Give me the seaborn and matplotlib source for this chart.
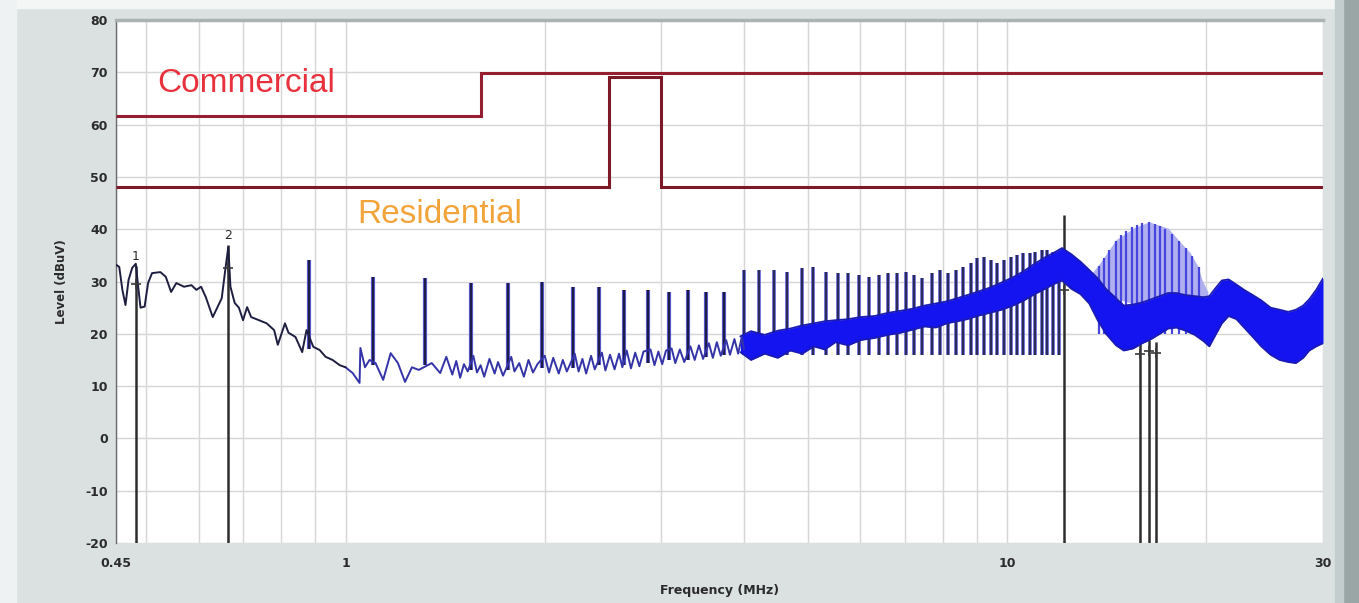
import numpy as np
import pandas as pd
import matplotlib
matplotlib.use("Agg")
import matplotlib.pyplot as plt
import seaborn as sns
from matplotlib.patches import Rectangle

# ---------------- data ----------------
x_tick_values = [0.45, 1, 10, 30]
x_tick_labels = ["0.45", "1", "10", "30"]
x_minor_grid = [0.5, 0.6, 0.7, 0.8, 0.9, 2, 3, 4, 5, 6, 7, 8, 9, 20]
y_tick_values = [-20, -10, 0, 10, 20, 30, 40, 50, 60, 70, 80]

# limit lines (step edges in MHz, levels in dBuV)
commercial_edges = [0.45, 1.6, 30]
commercial_levels = [61.6, 69.8]
residential_edges = [0.45, 2.5, 3.0, 30]
residential_levels = [48.1, 69.2, 48.1]

# low-frequency trace 0.45 - 1.0 MHz
low_f = [0.450, 0.455, 0.460, 0.465, 0.470, 0.476, 0.482, 0.486, 0.490, 0.497,
         0.503, 0.510, 0.525, 0.535, 0.545, 0.555, 0.570, 0.585, 0.595, 0.605,
         0.615, 0.630, 0.650, 0.658, 0.665, 0.670, 0.680, 0.690, 0.700, 0.710,
         0.720, 0.740, 0.760, 0.780, 0.790, 0.810, 0.820, 0.840, 0.860, 0.873,
         0.894, 0.914, 0.933, 0.956, 0.980, 1.000]
low_level = [33.2, 32.8, 28.4, 25.5, 30.3, 32.6, 33.4, 29.0, 25.0, 25.2,
             29.7, 31.6, 31.8, 30.9, 28.0, 29.7, 29.0, 29.3, 28.4, 29.0,
             27.0, 23.2, 26.8, 32.2, 36.6, 29.0, 25.9, 25.0, 22.6, 25.1,
             23.2, 22.6, 22.0, 20.7, 17.9, 22.0, 20.2, 19.4, 16.5, 20.7,
             17.5, 16.9, 15.6, 15.0, 14.0, 13.6]

# mid trace 1.0 - 4.0 MHz (noise floor between harmonics)
mid_f = [1.000, 1.025, 1.050, 1.053, 1.070, 1.087, 1.110, 1.140, 1.170, 1.200,
         1.230, 1.260, 1.290, 1.350, 1.390, 1.420, 1.450, 1.470, 1.490, 1.510,
         1.530, 1.560, 1.580, 1.600, 1.620, 1.650, 1.680, 1.700, 1.730, 1.780,
         1.800, 1.830, 1.860, 1.890, 1.920, 1.950, 2.000, 2.030, 2.060, 2.100,
         2.130, 2.160, 2.220, 2.250, 2.280, 2.310, 2.350, 2.380, 2.440, 2.470,
         2.510, 2.550, 2.590, 2.620, 2.660, 2.700, 2.740, 2.780, 2.820, 2.890,
         2.930, 2.970, 3.010, 3.050, 3.110, 3.150, 3.200, 3.250, 3.320, 3.370,
         3.420, 3.470, 3.540, 3.590, 3.640, 3.690, 3.760, 3.810, 3.870, 3.920,
         3.970, 4.000]
mid_level = [13.6, 12.5, 10.6, 17.3, 13.6, 15.0, 14.4, 11.2, 16.3, 14.4,
             10.8, 13.6, 13.1, 14.4, 12.5, 15.6, 12.2, 14.8, 11.6, 14.2,
             12.8, 15.8, 12.6, 14.0, 11.8, 15.2, 12.4, 14.6, 12.0, 15.6,
             12.8, 14.4, 11.8, 15.0, 12.6, 14.2, 15.8, 12.6, 15.4, 12.4,
             15.0, 12.8, 16.2, 12.8, 15.2, 12.4, 15.8, 13.2, 16.4, 13.0,
             16.0, 13.2, 16.2, 13.6, 16.8, 13.4, 16.4, 13.8, 16.6, 17.0,
             14.0, 16.6, 14.2, 16.8, 17.2, 14.4, 17.0, 14.6, 17.6, 15.0,
             17.8, 15.2, 18.2, 15.4, 18.4, 15.8, 18.8, 16.0, 19.0, 16.2,
             19.4, 17.0]

# harmonic spikes 0.88 - 3.74 MHz
mid_spike_f = [0.880, 1.100, 1.320, 1.545, 1.763, 1.984, 2.203, 2.419, 2.639,
               2.869, 3.087, 3.297, 3.511, 3.737]
mid_spike_top = [34.1, 30.9, 30.7, 29.7, 29.7, 29.9, 29.0, 29.0, 28.4,
                 28.4, 28.0, 28.4, 28.0, 28.0]
mid_spike_base = [17.0, 14.0, 14.0, 13.0, 13.0, 13.5, 13.5, 14.0, 14.0,
                  14.5, 15.0, 15.0, 15.5, 16.0]

# harmonic spikes 4 - 12 MHz (tops)
high_spike_f = [4.00, 4.22, 4.44, 4.65, 4.89, 5.09, 5.32, 5.54, 5.75, 5.97,
                6.18, 6.39, 6.60, 6.82, 7.02, 7.23, 7.44, 7.70, 7.91, 8.14,
                8.36, 8.57, 8.80, 9.01, 9.22, 9.44, 9.66, 9.89, 10.12, 10.35,
                10.57, 10.81, 11.03, 11.27, 11.49, 11.74, 11.97]
high_spike_top = [32.2, 32.2, 32.2, 31.9, 32.5, 32.8, 31.9, 31.6, 31.6, 31.2,
                  30.9, 31.2, 31.6, 31.6, 31.9, 31.2, 30.6, 31.6, 32.2, 31.6,
                  32.2, 32.8, 33.5, 34.4, 34.7, 34.1, 33.5, 34.1, 34.7, 35.1,
                  35.4, 35.4, 35.7, 36.0, 36.0, 35.7, 35.7]

# dense emission band 4 - 30 MHz (upper / lower envelope)
band_f = [3.95, 4.10, 4.30, 4.50, 4.70, 4.90, 5.10, 5.30, 5.50, 5.75,
          6.00, 6.30, 6.60, 6.90, 7.20, 7.50, 7.80, 8.10, 8.40, 8.70,
          9.00, 9.40, 9.80, 10.2, 10.6, 11.0, 11.4, 11.8, 12.1, 12.5,
          12.9, 13.3, 13.7, 14.1, 14.6, 15.0, 15.5, 16.0, 16.5, 17.0,
          17.5, 18.0, 18.6, 19.2, 19.8, 20.2, 20.6, 21.1, 21.6, 22.2,
          22.8, 23.5, 24.2, 25.0, 25.8, 26.6, 27.3, 28.0, 28.6, 29.3, 30.0]
band_hi = [19.5, 20.5, 19.8, 20.6, 21.0, 21.6, 22.0, 22.4, 22.6, 22.8,
           23.2, 23.4, 24.0, 24.4, 24.8, 25.4, 25.8, 26.2, 26.8, 27.4,
           28.0, 28.8, 29.8, 30.8, 32.0, 33.4, 34.6, 35.6, 36.4, 35.2,
           33.8, 32.2, 30.6, 28.6, 26.8, 25.4, 25.6, 26.0, 26.6, 27.2,
           27.8, 27.8, 27.4, 27.2, 27.0, 27.2, 28.6, 30.2, 30.4, 29.4,
           28.4, 27.4, 26.4, 25.0, 24.6, 24.2, 24.6, 25.4, 26.6, 28.4, 30.6]
band_lo = [16.5, 15.0, 16.2, 15.4, 16.8, 16.2, 17.6, 17.0, 18.4, 17.8,
           18.8, 19.2, 19.8, 20.2, 20.8, 21.4, 21.2, 22.0, 22.4, 22.8,
           23.4, 24.0, 24.6, 25.4, 26.4, 27.6, 28.6, 29.6, 30.2, 28.6,
           27.6, 25.8, 22.6, 20.0, 17.8, 16.8, 17.2, 18.2, 19.0, 20.0,
           21.0, 21.2, 20.6, 19.8, 18.6, 17.6, 19.6, 22.0, 23.4, 22.8,
           21.2, 19.4, 17.6, 16.0, 15.0, 14.6, 14.4, 15.4, 16.8, 17.6, 18.2]

# light "hump" 13.4 - 20.1 MHz
hump_f = [13.4, 13.8, 14.6, 15.6, 16.4, 17.5, 18.3, 18.9, 19.4, 19.7, 20.1]
hump_top = [31.5, 33.5, 38.0, 40.4, 41.4, 40.2, 37.4, 35.5, 33.0, 30.3, 28.0]
hump_bottom = [31.5, 30.2, 26.8, 25.6, 26.6, 27.8, 27.6, 27.4, 27.2, 27.0, 27.2]
hump_line_f = [13.76, 14.00, 14.24, 14.58, 14.83, 15.09, 15.45, 15.72, 15.99,
               16.37, 16.75, 17.04, 17.34, 17.75, 18.17, 18.60, 19.03, 19.48]
hump_line_top = [33.0, 34.5, 36.0, 37.8, 38.8, 39.6, 40.4, 40.9, 41.2,
                 41.4, 41.0, 40.6, 40.0, 39.0, 37.8, 36.4, 34.8, 32.8]

# markers
marker_f = [0.482, 0.665, 12.18, 15.87, 16.37, 16.80]
marker_top = [33.0, 37.0, 42.7, 18.2, 18.8, 18.4]
marker_plus = [29.5, 32.6, 28.4, 16.2, 16.8, 16.4]
marker_names = ["1", "2", "", "", "", ""]

# ---------------- drawing ----------------
sns.set_theme(style="white")
plt.rcParams["font.family"] = ["DejaVu Sans"]

fig = plt.figure(figsize=(13.59, 6.03), dpi=100, facecolor="#dbe1e1")
fig.patches.append(Rectangle((0, 0.986), 1, 0.014, transform=fig.transFigure,
                             color="#f4f6f6", zorder=0))
fig.patches.append(Rectangle((0, 0), 0.012, 1, transform=fig.transFigure,
                             color="#eef2f2", zorder=0))
fig.patches.append(Rectangle((0.988, 0), 0.012, 1, transform=fig.transFigure,
                             color="#9aa6a6", zorder=0))
fig.patches.append(Rectangle((0.982, 0), 0.006, 1, transform=fig.transFigure,
                             color="#c4cdcd", zorder=0))

ax = fig.add_axes([0.0854, 0.0995, 0.8881, 0.8673])
ax.set_facecolor("white")
ax.set_xscale("log")

# limits
ax.stairs(commercial_levels, commercial_edges, baseline=None,
          color="#951f30", lw=2.2, zorder=5)
ax.stairs(residential_levels, residential_edges, baseline=None,
          color="#7e1a28", lw=2.2, zorder=5)

# markers (vertical lines)
ax.vlines(marker_f, -20, marker_top, color="#2e2e2e", lw=1.8, zorder=2)

# spikes in mid range
ax.vlines(mid_spike_f, mid_spike_base, mid_spike_top, color="#5656c8", lw=3.0, zorder=3)
ax.vlines(mid_spike_f, mid_spike_base, mid_spike_top, color="#1c1c44", lw=1.4, zorder=3)

# high-frequency spikes (rise above the dense band)
ax.vlines(high_spike_f, 16, high_spike_top, color="#5a5ad0", lw=2.6, zorder=3)
ax.vlines(high_spike_f, 16, high_spike_top, color="#26264e", lw=1.3, zorder=3)

# hump
ax.fill_between(hump_f, hump_bottom, hump_top, color="#b0b0f0", lw=0, zorder=3)
ax.vlines(hump_line_f, 20, hump_line_top, color="#4646de", lw=1.6, zorder=3)

# dense band
ax.fill_between(band_f, band_lo, band_hi, color="#1414f0", lw=0, zorder=4)
sns.lineplot(x=band_f, y=band_hi, ax=ax, color="#1a1ab4", lw=1.3, zorder=4)
sns.lineplot(x=band_f, y=band_lo, ax=ax, color="#1a1ab4", lw=1.3, zorder=4)

# traces
sns.lineplot(x=mid_f, y=mid_level, ax=ax, color="#3434a8", lw=1.4, zorder=4)
sns.lineplot(x=low_f, y=low_level, ax=ax, color="#1e1e40", lw=1.4, zorder=4)

# marker symbols and labels
ax.scatter(marker_f, marker_plus, marker="+", s=60, color="#3a3a3a", lw=1.2, zorder=6)
for f, t, name in zip(marker_f, marker_top, marker_names):
    if name:
        ax.text(f, t + 0.6, name, ha="center", va="bottom", fontsize=9,
                color="#2a2a2a", zorder=6)

# annotations
ax.text(0.52, 66.2, "Commercial", color="#e8313c", fontsize=24,
        family="Liberation Sans", ha="left", va="baseline", zorder=6)
ax.text(1.043, 41.2, "Residential", color="#f2a33a", fontsize=24,
        family="Liberation Sans", ha="left", va="baseline", zorder=6)

# axes
ax.set_xlim(0.45, 30)
ax.set_ylim(-20, 80)
ax.set_xticks(x_tick_values)
ax.set_xticklabels(x_tick_labels)
ax.set_xticks(x_minor_grid, minor=True)
ax.xaxis.set_minor_formatter(plt.NullFormatter())
ax.set_yticks(y_tick_values)
ax.set_yticklabels([str(v) for v in y_tick_values])
ax.grid(which="both", axis="x", color="#d6d6d6", lw=1.0, zorder=0)
ax.grid(which="major", axis="y", color="#d6d6d6", lw=1.0, zorder=0)
ax.set_axisbelow(True)
ax.tick_params(axis="both", which="both", length=0, labelsize=9,
               labelcolor="#2b2b2b")
ax.tick_params(axis="y", pad=6)
ax.tick_params(axis="x", pad=10)
for lbl in ax.get_xticklabels() + ax.get_yticklabels():
    lbl.set_fontweight("bold")

ax.set_xlabel("Frequency (MHz)", fontsize=9, fontweight="bold",
              color="#2b2b2b", labelpad=10)
ax.set_ylabel("Level (dBuV)", fontsize=8.5, fontweight="bold",
              color="#2b2b2b", labelpad=12)

for side in ["right", "bottom"]:
    ax.spines[side].set_visible(False)
ax.spines["top"].set_color("#aab2b2")
ax.spines["top"].set_linewidth(2.5)
ax.spines["left"].set_color("#6a6a6a")
ax.spines["left"].set_linewidth(1.0)

fig.savefig("out.png", dpi=100, facecolor=fig.get_facecolor())
